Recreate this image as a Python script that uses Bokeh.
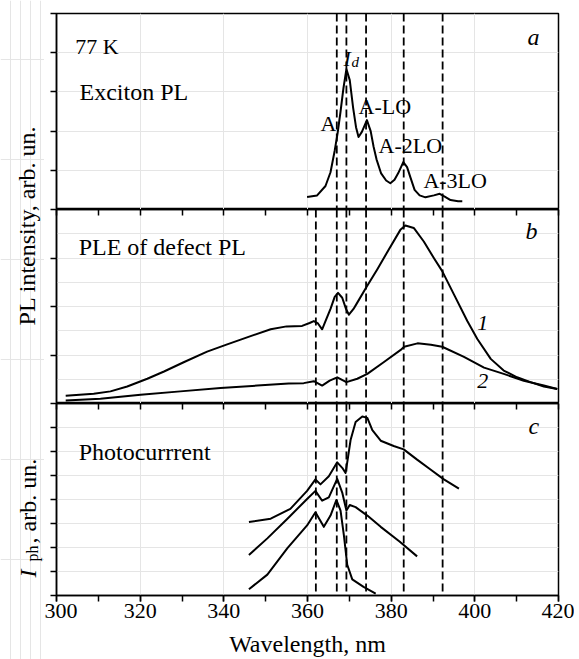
import math
from bokeh.plotting import figure
from bokeh.models import Range1d, LinearAxis, FixedTicker, SingleIntervalTicker, Span, Label
from bokeh.layouts import column, row
from bokeh.embed import file_html
from bokeh.resources import INLINE

FONT = "Liberation Serif"

# ---------------- data ----------------
# Panel a: exciton PL at 77 K
ex_x = [359.9, 362.3, 364.3, 365.5, 366.5, 367.2, 367.9, 368.6, 369.3, 370.1, 370.9, 371.6,
        372.2, 373.0, 374.2, 375.1, 375.8, 376.5, 377.6, 378.8, 379.8, 380.8, 381.7, 382.9,
        383.8, 384.6, 385.6, 386.8, 388.2, 390.2, 391.6, 392.8, 394.2, 396.0, 397.0]
ex_y = [0.32, 0.36, 0.60, 0.95, 1.50, 1.95, 2.50, 3.10, 3.58, 3.30, 2.60, 2.10,
        1.85, 1.98, 2.28, 2.00, 1.60, 1.28, 0.92, 0.74, 0.67, 0.76, 0.93, 1.21,
        1.08, 0.82, 0.50, 0.36, 0.31, 0.36, 0.40, 0.33, 0.24, 0.21, 0.21]
lines_a = [367.0, 369.3, 374.0, 383.0, 392.3]

# Panel b: PLE of defect PL, curves 1 and 2
ple1_x = [302.2, 308.9, 312.9, 316.9, 321.7, 325.7, 330.4, 336.0, 340.8, 346.4, 351.2, 355.0,
          358.7, 360.5, 361.5, 362.5, 363.5, 364.3, 365.5, 366.5, 367.3, 368.3, 369.2, 369.9,
          371.0, 371.9, 374.1, 376.7, 379.4, 382.2, 383.4, 385.4, 387.8, 390.2, 392.2, 395.0,
          398.2, 400.6, 403.8, 406.9, 410.1, 413.3, 416.5, 419.7]
ple1_y = [0.16, 0.20, 0.25, 0.35, 0.51, 0.66, 0.85, 1.07, 1.22, 1.39, 1.53, 1.59,
          1.60, 1.66, 1.70, 1.65, 1.53, 1.70, 1.95, 2.20, 2.28, 2.18, 1.95, 1.83,
          1.95, 2.08, 2.40, 2.77, 3.17, 3.58, 3.67, 3.62, 3.34, 3.00, 2.73, 2.25,
          1.70, 1.33, 0.92, 0.68, 0.54, 0.44, 0.35, 0.30]
ple2_x = [302.2, 310.5, 320.1, 329.6, 339.2, 348.0, 355.5, 359.1, 361.5, 363.5, 365.3, 367.1,
          369.3, 371.9, 374.3, 378.2, 382.2, 383.1, 386.3, 389.5, 392.2, 397.4, 402.2, 406.9,
          411.7, 416.5, 419.7]
ple2_y = [0.06, 0.10, 0.18, 0.25, 0.32, 0.37, 0.41, 0.42, 0.46, 0.37, 0.47, 0.54,
          0.44, 0.51, 0.61, 0.85, 1.10, 1.17, 1.24, 1.21, 1.17, 0.96, 0.74, 0.61,
          0.47, 0.37, 0.30]
lines_bc = [362.0, 367.0, 369.3, 374.0, 383.0, 392.3]

# Panel c: photocurrent, three curves
pc1_x = [346.0, 351.2, 355.9, 359.9, 361.9, 363.1, 365.1, 367.1, 368.3, 369.1, 369.6, 370.3,
         371.5, 373.1, 374.3, 375.5, 377.5, 380.6, 383.0, 386.2, 389.4, 392.6, 396.2]
pc1_y = [3.06, 3.20, 3.61, 4.36, 4.84, 4.63, 4.97, 5.55, 5.32, 5.11, 5.66, 6.48,
         7.23, 7.46, 7.40, 6.89, 6.45, 6.23, 6.09, 5.66, 5.25, 4.84, 4.45]
pc2_x = [346.0, 350.4, 355.2, 359.9, 361.9, 363.5, 365.1, 367.1, 368.3, 369.3, 370.1, 371.5,
         374.3, 377.5, 382.0, 386.2]
pc2_y = [1.69, 2.38, 3.20, 4.02, 4.36, 3.95, 4.09, 4.86, 4.29, 3.54, 3.77, 3.68,
         3.33, 2.86, 2.25, 1.63]
pc3_x = [346.0, 350.4, 355.2, 359.9, 361.9, 363.9, 365.5, 366.9, 367.9, 368.7, 369.5, 370.7,
         373.4, 376.3]
pc3_y = [0.26, 0.87, 1.97, 2.92, 3.47, 2.86, 3.33, 3.98, 3.54, 2.51, 1.28, 0.67,
         0.36, 0.08]

x_ticks_10 = list(range(300, 421, 10))
ymax_a, ymax_b, ymax_c = 5, 4, 8

# ---------------- helpers ----------------
xr = Range1d(300, 420)
PANEL_W = 530
LIFT = 7  # pixels: baseline correction for labels


def make_fig(h, ymax, top, bottom):
    p = figure(width=PANEL_W, height=h, x_range=xr, y_range=Range1d(0, ymax),
               x_axis_location=None, y_axis_location=None,
               min_border_left=12, min_border_right=PANEL_W - 12 - 502,
               min_border_top=top, min_border_bottom=bottom,
               toolbar_location=None, output_backend="svg")
    p.outline_line_color = "black"
    p.outline_line_width = 1.5
    p.outline_line_alpha = 1.0
    yax = LinearAxis(ticker=FixedTicker(ticks=list(range(0, ymax + 1))),
                     major_label_text_font_size="1px", major_label_text_color=None,
                     major_label_standoff=0,
                     major_tick_out=6, major_tick_in=0, minor_tick_out=0, minor_tick_in=0,
                     axis_line_width=1.5, major_tick_line_width=1.5)
    p.add_layout(yax, "left")
    return p


def add_top_ticks(p):
    ax = LinearAxis(ticker=FixedTicker(ticks=x_ticks_10),
                    major_label_text_font_size="1px", major_label_text_color=None,
                    major_label_standoff=0,
                    major_tick_in=6, major_tick_out=0, minor_tick_in=0, minor_tick_out=0,
                    axis_line_width=1.5, major_tick_line_width=1.5)
    p.add_layout(ax, "above")


def add_dashes(p, locs):
    for loc in locs:
        p.add_layout(Span(location=loc, dimension="height", line_color="black",
                          line_width=1.8, line_dash="8 4"))


def lab(p, x, y, text, size="22px", style="normal", align="left"):
    p.add_layout(Label(x=x, y=y, text=text, text_font=FONT, text_font_size=size,
                       text_font_style=style, text_color="black", text_align=align,
                       text_baseline="alphabetic", y_offset=LIFT))


# ---------------- panel a ----------------
fa = make_fig(209, ymax_a, 13, 0)
add_dashes(fa, lines_a)
fa.line(ex_x, ex_y, line_color="black", line_width=2, line_join="round")
lab(fa, 304.5, 3.98, "77 K", "22px")
lab(fa, 305.5, 2.81, "Exciton PL", "24px")
lab(fa, 368.6, 3.67, "I", "22px", "italic")
lab(fa, 370.5, 3.58, "d", "15px", "italic")
lab(fa, 363.1, 2.02, "A", "22px")
lab(fa, 372.2, 2.45, "A-LO", "22px")
lab(fa, 377.0, 1.45, "A-2LO", "22px")
lab(fa, 387.7, 0.56, "A-3LO", "22px")
lab(fa, 412.6, 4.23, "a", "24px", "italic")

# ---------------- panel b ----------------
fb = make_fig(194, ymax_b, 0, 0)
add_top_ticks(fb)
add_dashes(fb, lines_bc)
fb.line(ple1_x, ple1_y, line_color="black", line_width=2, line_join="round")
fb.line(ple2_x, ple2_y, line_color="black", line_width=2, line_join="round")
lab(fb, 305.3, 3.09, "PLE of defect PL", "24px")
lab(fb, 412.1, 3.42, "b", "24px", "italic")
lab(fb, 400.6, 1.51, "1", "22px", "italic")
lab(fb, 400.6, 0.31, "2", "22px", "italic")

# ---------------- panel c ----------------
fc = make_fig(256, ymax_c, 0, 61)
add_top_ticks(fc)
bx = LinearAxis(ticker=SingleIntervalTicker(interval=20, num_minor_ticks=2),
                major_tick_out=6, major_tick_in=0, minor_tick_out=6, minor_tick_in=0,
                major_label_standoff=2, major_label_text_font=FONT,
                major_label_text_font_size="22px", major_label_text_color="black",
                axis_label="Wavelength, nm", axis_label_text_font=FONT,
                axis_label_text_font_size="24px", axis_label_text_font_style="normal",
                axis_label_text_color="black", axis_label_standoff=10,
                axis_line_width=1.5, major_tick_line_width=1.5, minor_tick_line_width=1.5,
                minor_tick_line_color="black")
fc.add_layout(bx, "below")
add_dashes(fc, lines_bc)
fc.line(pc1_x, pc1_y, line_color="black", line_width=2, line_join="round")
fc.line(pc2_x, pc2_y, line_color="black", line_width=2, line_join="round")
fc.line(pc3_x, pc3_y, line_color="black", line_width=2, line_join="round")
lab(fc, 305.3, 5.70, "Photocurrrent", "24px")
lab(fc, 412.8, 6.77, "c", "24px", "italic")

# ---------------- y-axis titles ----------------
LW, LH = 44, 659
fl = figure(width=LW, height=LH, x_range=Range1d(0, LW), y_range=Range1d(0, LH),
            x_axis_location=None, y_axis_location=None, min_border=0,
            toolbar_location=None, output_backend="svg")
fl.outline_line_color = None
for (x, y, t, size, style, align) in [
        (33, 434, "PL intensity, arb. un.", "24px", "normal", "center"),
        (34, 82, "I", "24px", "italic", "left"),
        (39, 98, "ph", "16px", "normal", "left"),
        (34, 116, ", arb. un.", "24px", "normal", "left")]:
    fl.add_layout(Label(x=x, y=y, text=t, angle=math.pi / 2, text_font=FONT,
                        text_font_size=size, text_font_style=style, text_color="black",
                        text_align=align, text_baseline="alphabetic", x_offset=-LIFT))

layout = row(fl, column(fa, fb, fc))
open("out.html", "w").write(file_html(layout, INLINE))
